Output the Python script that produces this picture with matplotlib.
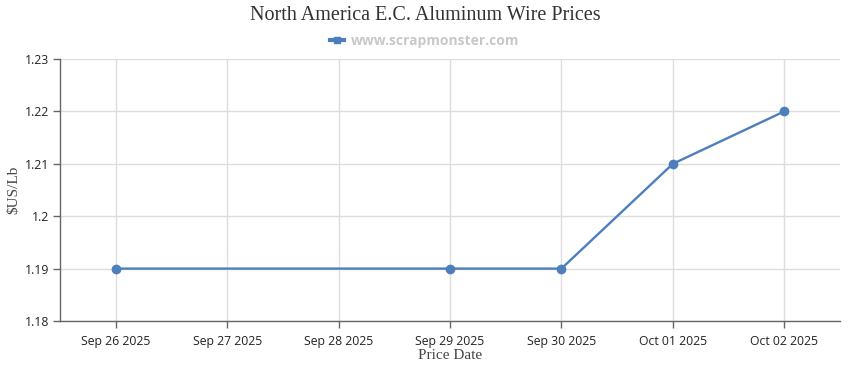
import matplotlib
matplotlib.use("Agg")
import matplotlib.pyplot as plt
import matplotlib.dates as mdates
import numpy as np
from datetime import datetime, timedelta

dates = ["2025-09-26", "2025-09-29", "2025-09-30", "2025-10-01", "2025-10-02"]
prices = [1.19, 1.19, 1.19, 1.21, 1.22]
yticks = [1.18, 1.19, 1.2, 1.21, 1.22, 1.23]
ytick_labels = ["1.18", "1.19", "1.2", "1.21", "1.22", "1.23"]
title = "North America E.C. Aluminum Wire Prices"
legend_label = "www.scrapmonster.com"

x = [datetime.strptime(d, "%Y-%m-%d") for d in dates]
color = "#4e7fbd"

fig = plt.figure(figsize=(8.5, 3.7), dpi=100)
ax = fig.add_axes([60/850, 49/370, 780/850, 262/370])

ax.plot(x, prices, color=color, lw=1.7, marker="o", ms=6, zorder=3,
        clip_on=False)

start = datetime(2025, 9, 26)
ticks = [start + timedelta(days=i) for i in range(7)]
ax.set_xticks(ticks)
ax.set_xticklabels([t.strftime("%b %d %Y") for t in ticks],
                   fontfamily="Open Sans", fontsize=8.8, color="#222")
ax.set_xlim(start - timedelta(hours=12), ticks[-1] + timedelta(hours=12))
ax.set_ylim(1.18, 1.23)
ax.set_yticks(yticks)
ax.set_yticklabels(ytick_labels, fontfamily="Open Sans", fontsize=8.8, color="#222")

ax.grid(True, color="#dddddd", lw=1)
ax.set_axisbelow(True)
for s in ["top", "right"]:
    ax.spines[s].set_visible(False)
for s in ["left", "bottom"]:
    ax.spines[s].set_color("#666666")
    ax.spines[s].set_linewidth(1)
ax.tick_params(axis="x", length=5, width=1, color="#666666", pad=5)
ax.tick_params(axis="y", length=5, width=1, color="#666666", pad=3)

ax.set_xlabel("Price Date", fontfamily="Liberation Serif", fontsize=11,
              color="#444", labelpad=1)
ax.set_ylabel("$US/Lb", fontfamily="Liberation Serif", fontsize=11,
              color="#444", labelpad=3)

fig.text(0.5, 1 - 16/370, title, ha="center", va="center",
         fontfamily="Liberation Serif", fontsize=14.5, color="#333")

from matplotlib.lines import Line2D
h = Line2D([], [], color=color, lw=3, marker="s", ms=4)
leg = fig.legend([h], [legend_label], loc="center", bbox_to_anchor=(0.5, 1 - 41/370),
                 frameon=False, handlelength=1.0, handletextpad=0.5,
                 prop={"family": "Open Sans", "weight": "bold", "size": 10})
for t in leg.get_texts():
    t.set_color("#c8c8c8")

fig.savefig("out.png", dpi=100)
